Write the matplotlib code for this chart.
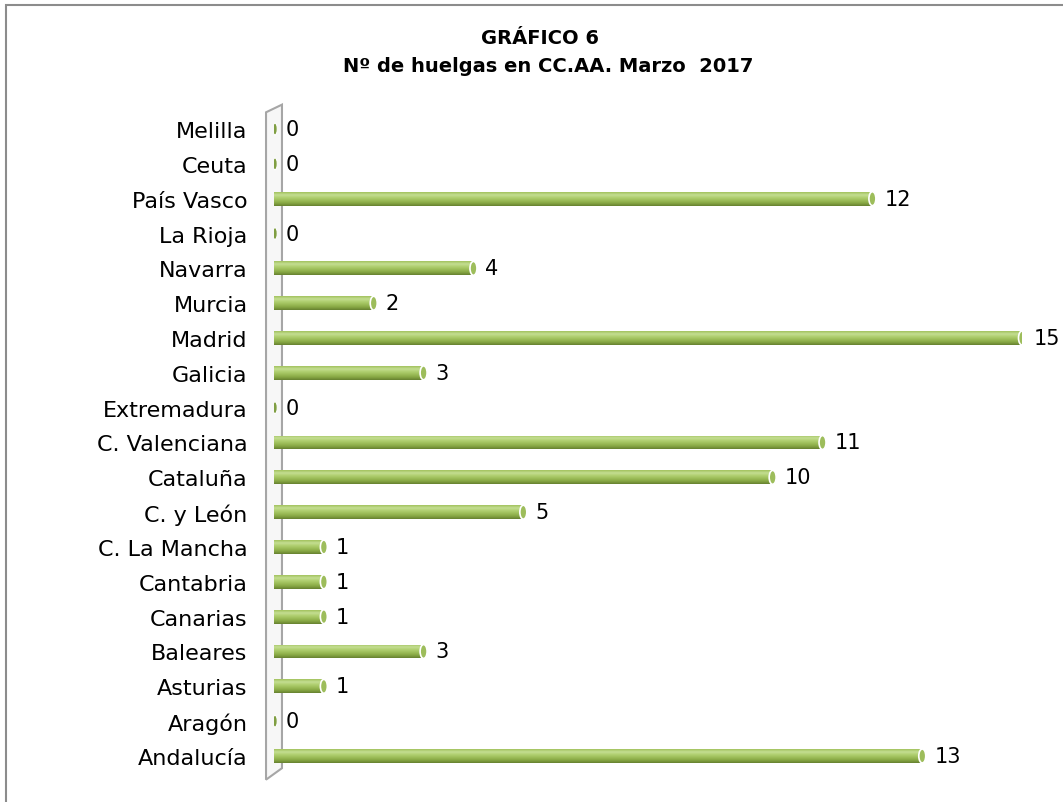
import numpy as np
import matplotlib.pyplot as plt
from matplotlib.patches import Ellipse, Polygon, Rectangle
from matplotlib.colors import LinearSegmentedColormap

# data, bottom row first
regions = ["Andalucía", "Aragón", "Asturias", "Baleares", "Canarias", "Cantabria",
           "C. La Mancha", "C. y León", "Cataluña", "C. Valenciana", "Extremadura",
           "Galicia", "Madrid", "Murcia", "Navarra", "La Rioja", "País Vasco",
           "Ceuta", "Melilla"]
strikes = [13, 0, 1, 3, 1, 1, 1, 5, 10, 11, 0, 3, 15, 2, 4, 0, 12, 0, 0]

title_lines = ["GRÁFICO 6", "Nº de huelgas en CC.AA. Marzo  2017"]

fig = plt.figure(figsize=(10.63, 8.03), dpi=100)
ax = fig.add_axes([274 / 1063, 1 - 774.4 / 803, 748 / 1063, (774.4 - 112.6) / 803])

# outer frame (only left and top visible in the reference)
fig.add_artist(Rectangle((6 / 1063, -0.1), 1.2, 1 - 6 / 803 + 0.1,
                         transform=fig.transFigure, fill=False,
                         edgecolor="#8c8c8c", linewidth=1.5))

y = np.arange(len(regions))
bar_h = 0.4

# cylinder shading, light on top, darker at the bottom
green = LinearSegmentedColormap.from_list(
    "cyl", ["#66812f", "#86a643", "#9cbd58", "#b0cf70", "#c4de92", "#a2c25e"])
grad = np.linspace(0, 1, 64).reshape(-1, 1)

bars = ax.barh(y, strikes, height=bar_h, color="#9bbb59", edgecolor="none", zorder=2)
for rect, v, yi in zip(bars, strikes, y):
    if v > 0:
        im = ax.imshow(grad, cmap=green, aspect="auto", origin="lower",
                       extent=[0, v, yi - bar_h / 2, yi + bar_h / 2], zorder=3)
        im.set_clip_path(rect)
        ax.add_patch(Ellipse((v, yi), 0.14, bar_h, facecolor="#9dbd5b",
                             edgecolor="white", linewidth=1.2, zorder=4))
    else:
        ax.add_patch(Ellipse((0.02, yi), 0.09, bar_h * 0.85, facecolor="#7f9e42",
                             edgecolor="white", linewidth=0.8, zorder=4))
    ax.text(v + 0.24, yi, str(v), va="center", ha="left", fontsize=15,
            color="black", clip_on=False)

# 3D wall on the left
wall = Polygon([(-0.16, -0.68), (0.16, -0.35), (0.16, 18.7), (-0.16, 18.48)],
               closed=True, facecolor="#f7f7f7", edgecolor="#a6a6a6",
               linewidth=1.5, zorder=1, clip_on=False)
ax.add_patch(wall)

ax.set_xlim(0, 15)
ax.set_ylim(-0.5, len(regions) - 0.5)
ax.set_yticks(y)
ax.set_yticklabels(regions, fontsize=16)
ax.tick_params(axis="y", length=0, pad=19)
ax.set_xticks([])
for s in ax.spines.values():
    s.set_visible(False)
ax.set_facecolor("none")

fig.text(540 / 1063, 1 - 39 / 803, title_lines[0], ha="center", va="center",
         fontsize=14, fontweight="bold")
fig.text(548 / 1063, 1 - 66 / 803, title_lines[1], ha="center", va="center",
         fontsize=14, fontweight="bold")

fig.savefig("out.png", dpi=100, facecolor="white")
